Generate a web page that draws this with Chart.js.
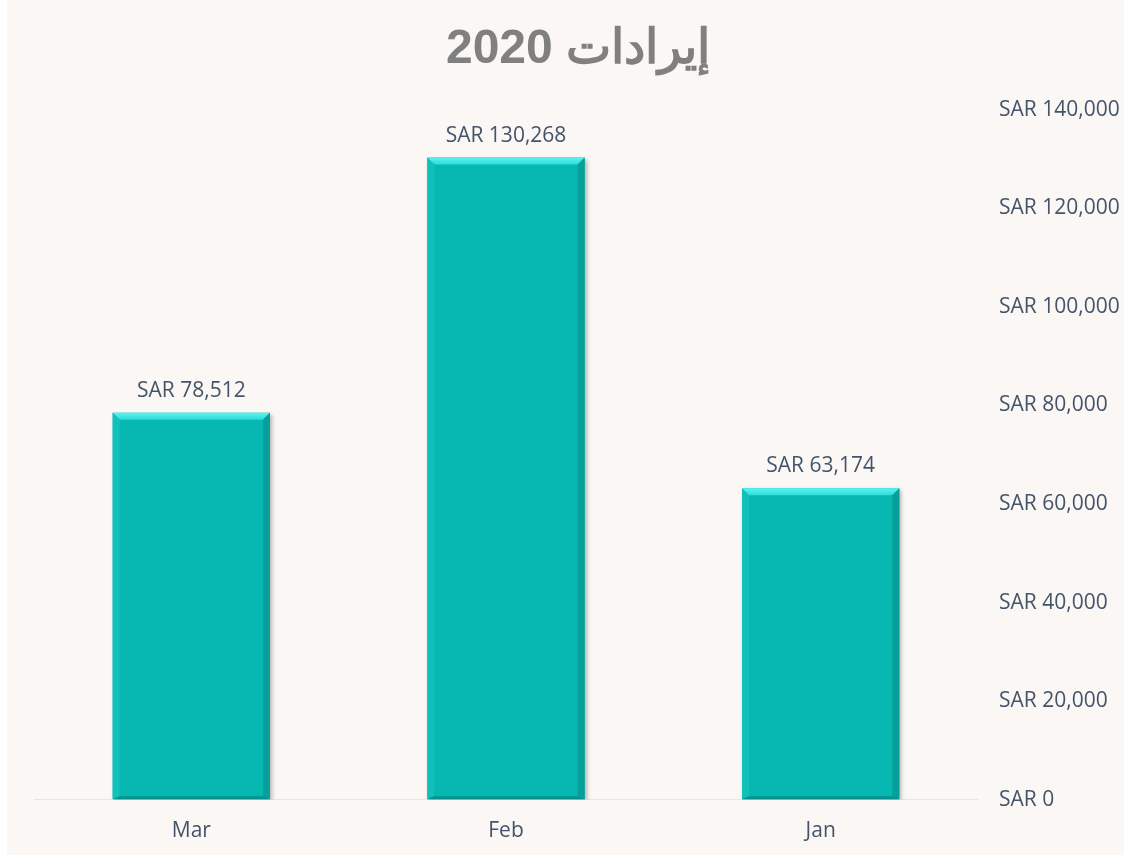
<!DOCTYPE html>
<html>
<head>
<meta charset="utf-8">
<script src="https://cdn.jsdelivr.net/npm/chart.js@4.4.1/dist/chart.umd.min.js"></script>
<style>
  html, body { margin: 0; padding: 0; background: #ffffff; }
  .box { position: absolute; left: 7px; top: 0; width: 1117px; height: 855px; background: #faf7f4; overflow: hidden; }
  canvas { display: block; }
</style>
</head>
<body>
<div class="box"><canvas id="myChart" dir="rtl" width="1117" height="855"></canvas></div>
<script>
// revenue per month, 2020
const months = ['Jan', 'Feb', 'Mar'];
const revenue = [63174, 130268, 78512];
const titleText = 'إيرادات 2020';
const yMax = 140000;
const yStep = 20000;

const fmt = v => 'SAR ' + v.toLocaleString('en-US');
const textColor = '#44546a';
const labelFont = { family: "'Open Sans', sans-serif", size: 21 };

// excel-ish bevel on top of each bar
const bevel = {
  id: 'bevel',
  beforeDatasetsDraw(chart) {
    const ctx = chart.ctx;
    ctx.save();
    ctx.shadowColor = 'rgba(0,0,0,0.28)';
    ctx.shadowBlur = 4;
    ctx.shadowOffsetX = 2;
    ctx.shadowOffsetY = 2;
  },
  afterDatasetsDraw(chart) {
    const ctx = chart.ctx;
    ctx.restore();
    chart.getDatasetMeta(0).data.forEach(bar => {
      const p = bar.getProps(['x', 'y', 'base', 'width'], true);
      const l = p.x - p.width / 2, r = p.x + p.width / 2, t = p.y, b = p.base;
      const s = 7;
      const poly = (pts, fill) => {
        ctx.beginPath();
        ctx.moveTo(pts[0][0], pts[0][1]);
        for (let k = 1; k < pts.length; k++) ctx.lineTo(pts[k][0], pts[k][1]);
        ctx.closePath();
        ctx.fillStyle = fill;
        ctx.fill();
      };
      const g = ctx.createLinearGradient(0, t, 0, t + s);
      g.addColorStop(0, '#5cf3ef');
      g.addColorStop(1, '#2cdcd7');
      poly([[l, t], [r, t], [r - s, t + s], [l + s, t + s]], g);
      poly([[l, t], [l + s, t + s], [l + s, b - 3], [l, b]], '#10c0ba');
      poly([[r, t], [r - s, t + s], [r - s, b - 3], [r, b]], '#079f9a');
      poly([[l, b], [l + s, b - 3], [r - s, b - 3], [r, b]], '#06938f');
    });
  }
};

// value labels above bars
const valueLabels = {
  id: 'valueLabels',
  afterDatasetsDraw(chart) {
    const ctx = chart.ctx;
    ctx.save();
    ctx.font = `${labelFont.size}px ${labelFont.family}`;
    ctx.fillStyle = textColor;
    ctx.textAlign = 'center';
    ctx.textBaseline = 'middle';
    chart.getDatasetMeta(0).data.forEach((bar, i) => {
      ctx.fillText(fmt(revenue[i]), bar.x, bar.y - 22);
    });
    ctx.restore();
  }
};

new Chart(document.getElementById('myChart'), {
  type: 'bar',
  data: {
    labels: months,
    datasets: [{
      data: revenue,
      backgroundColor: '#07b7b1',
      borderWidth: 0,
      barPercentage: 0.5,
      categoryPercentage: 1
    }]
  },
  plugins: [bevel, valueLabels],
  options: {
    responsive: false,
    animation: false,
    layout: { padding: { left: 27, right: 2, top: 3, bottom: 0 } },
    plugins: {
      legend: { display: false },
      tooltip: { enabled: false },
      title: {
        display: true,
        text: titleText,
        color: '#808080',
        font: { family: "'Liberation Sans', Arial, sans-serif", size: 48, weight: 'bold' },
        padding: { top: 18, bottom: 31 }
      }
    },
    scales: {
      x: {
        reverse: true,
        grid: { display: false },
        border: { display: false },
        ticks: { color: textColor, font: labelFont, padding: 11 }
      },
      y: {
        position: 'right',
        min: 0,
        max: yMax,
        border: { display: false },
        afterFit: s => { s.width = 144; },
        grid: {
          drawTicks: false,
          color: ctx => ctx.tick && ctx.tick.value === 0 ? '#ebe6e1' : 'rgba(0,0,0,0)'
        },
        ticks: {
          stepSize: yStep,
          color: textColor,
          font: labelFont,
          padding: 21,
          crossAlign: 'near',
          callback: v => fmt(v)
        }
      }
    }
  }
});
</script>
</body>
</html>
